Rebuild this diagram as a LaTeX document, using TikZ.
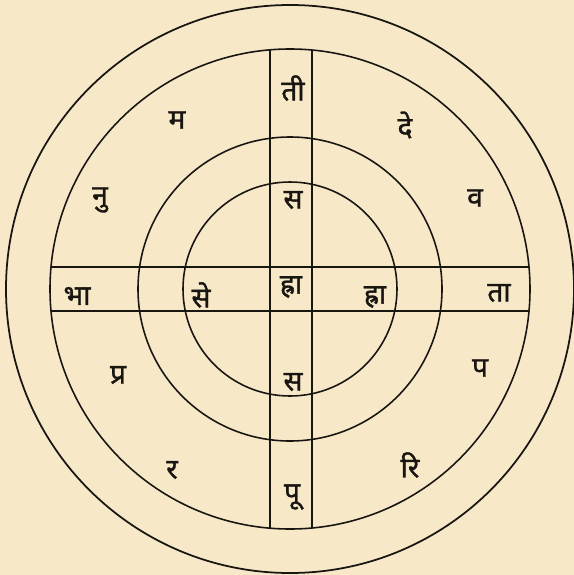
\documentclass[tikz,border=0pt]{standalone}
\usepackage{fontspec}
\newfontfamily\devfont[Script=Devanagari,FakeBold=1.2]{Noto Sans}
\definecolor{paper}{RGB}{247,233,200}
\definecolor{ink}{RGB}{25,22,18}
\tikzset{akshara/.style={font=\devfont\fontsize{16}{19}\selectfont,text=ink,inner sep=0pt}}
\begin{document}
\begin{tikzpicture}[x=0.02cm,y=-0.02cm]
        \fill[paper] (0,0) rectangle (574,575);
        \useasboundingbox (0,0) rectangle (574,575);
        \coordinate (c) at (290,289);
        % rings
        \draw[ink,line width=1pt] (c) circle (284);
        \draw[ink,line width=0.9pt] (c) circle (240);
        \draw[ink,line width=0.9pt] (c) circle (152);
        \draw[ink,line width=0.9pt] (c) circle (107);
        % cross bands
        \draw[ink,line width=0.9pt] (270,50) -- (270,528);
        \draw[ink,line width=0.9pt] (312,50) -- (312,528);
        \draw[ink,line width=0.9pt] (51,267) -- (529,267);
        \draw[ink,line width=0.9pt] (51,311) -- (529,311);
        % letters
        \node[akshara] (ti) at (293,88) {ती};
        \node[akshara] (ma) at (177,120) {म};
        \node[akshara] (de) at (405,125) {दे};
        \node[akshara] (nu) at (100,200) {नु};
        \node[akshara] (va) at (475,198) {व};
        \node[akshara] (sa1) at (293,200) {स};
        \node[akshara] (bha) at (77,296) {भा};
        \node[akshara] (se) at (201,295) {से};
        \node[akshara] (hra1) at (291,287) {ह्रा};
        \node[akshara] (hra2) at (375,297) {ह्रा};
        \node[akshara] (ta) at (499,293) {ता};
        \node[akshara] (pra) at (118,375) {प्र};
        \node[akshara] (pa) at (480,368) {प};
        \node[akshara] (sa2) at (293,382) {स};
        \node[akshara] (ra) at (172,470) {र};
        \node[akshara] (ri) at (410,465) {रि};
        \node[akshara] (pu) at (292,497) {पू};
\end{tikzpicture}
\end{document}
